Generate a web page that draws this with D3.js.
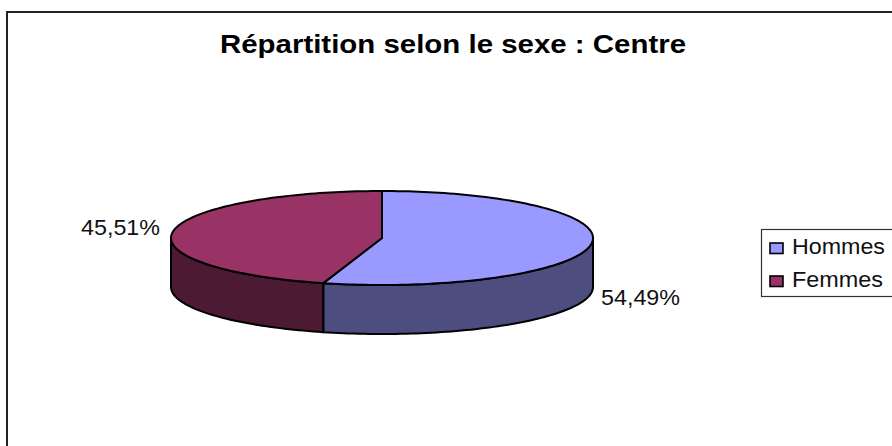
<!DOCTYPE html>
<html>
<head>
<meta charset="utf-8">
<script src="https://cdn.jsdelivr.net/npm/d3@7"></script>
<style>
  html, body { margin: 0; padding: 0; background: #fff; }
  svg { display: block; font-family: "Liberation Sans", Arial, sans-serif; }
</style>
</head>
<body>
<div id="holder"></div>
<script>
const title = "Répartition selon le sexe : Centre";
const categories = ["Hommes", "Femmes"];
const shares = [54.49, 45.51];
const topColors = ["#9999ff", "#993366"];
const sideColors = ["#4d4d80", "#4d1a33"];

const w = 892, h = 446;
const cx = 382, cy = 238, rx = 211, ry = 47, depth = 49;

const svg = d3.select("#holder").append("svg").attr("width", w).attr("height", h);

// frame, only top and left show in the picture
svg.append("path")
    .attr("d", `M7,${h}V12H${w}`)
    .attr("fill", "none")
    .attr("stroke", "#222")
    .attr("stroke-width", 2);

// the reference is stretched sideways, so text gets its width forced
function stretched(sel, x, y, size, width) {
    return sel.attr("x", x).attr("y", y)
        .attr("font-size", size)
        .attr("textLength", width)
        .attr("lengthAdjust", "spacingAndGlyphs");
}

svg.append("text")
    .call(stretched, 220, 53, 25, 466)
    .attr("font-weight", "bold")
    .attr("fill", "#000")
    .text(title);

const slices = d3.pie().sort(null)(shares);

// angle measured clockwise from the top, squashed onto the ellipse
const px = a => cx + rx * Math.sin(a);
const py = a => cy - ry * Math.cos(a);
const line = d3.line();

function arcPoints(a0, a1, dy) {
    const n = Math.max(2, Math.ceil((a1 - a0) * 40));
    return d3.range(n + 1).map(i => {
        const a = a0 + (a1 - a0) * i / n;
        return [px(a), py(a) + dy];
    });
}

// walls first, only the part facing the viewer
slices.forEach((d, i) => {
    const a0 = Math.max(d.startAngle, Math.PI / 2);
    const a1 = Math.min(d.endAngle, 3 * Math.PI / 2);
    if (a1 <= a0) return;
    const pts = arcPoints(a0, a1, 0).concat(arcPoints(a0, a1, depth).reverse());
    svg.append("path")
        .attr("d", line(pts) + "Z")
        .attr("fill", sideColors[i])
        .attr("stroke", "#000")
        .attr("stroke-width", 2)
        .attr("stroke-linejoin", "round");
});

// top faces
slices.forEach((d, i) => {
    const pts = [[cx, cy]].concat(arcPoints(d.startAngle, d.endAngle, 0));
    svg.append("path")
        .attr("d", line(pts) + "Z")
        .attr("fill", topColors[i])
        .attr("stroke", "#000")
        .attr("stroke-width", 2)
        .attr("stroke-linejoin", "round");
});

const pct = v => v.toFixed(2).replace(".", ",") + "%";
const labelPos = [[601, 305], [81, 235]];
slices.forEach((d, i) => {
    svg.append("text")
        .call(stretched, labelPos[i][0], labelPos[i][1], 22, 79)
        .attr("fill", "#111")
        .text(pct(shares[i]));
});

// legend, its right edge is cut off by the picture
const legendY = d3.scalePoint().domain(categories).range([248, 281]);
svg.append("rect")
    .attr("x", 761.5).attr("y", 229.5)
    .attr("width", 150).attr("height", 67)
    .attr("fill", "#fff")
    .attr("stroke", "#333")
    .attr("stroke-width", 1.2);
const legend = svg.append("g").selectAll("g").data(categories).enter().append("g");
legend.append("rect")
    .attr("x", 770).attr("y", d => legendY(d) - 5)
    .attr("width", 13).attr("height", 10.5)
    .attr("fill", (d, i) => topColors[i])
    .attr("stroke", "#000")
    .attr("stroke-width", 1.6);
legend.append("text")
    .each(function(d, i) {
        d3.select(this).call(stretched, 792, legendY(d) + 6, 22, i === 0 ? 93 : 91);
    })
    .attr("fill", "#111")
    .text(d => d);
</script>
</body>
</html>
